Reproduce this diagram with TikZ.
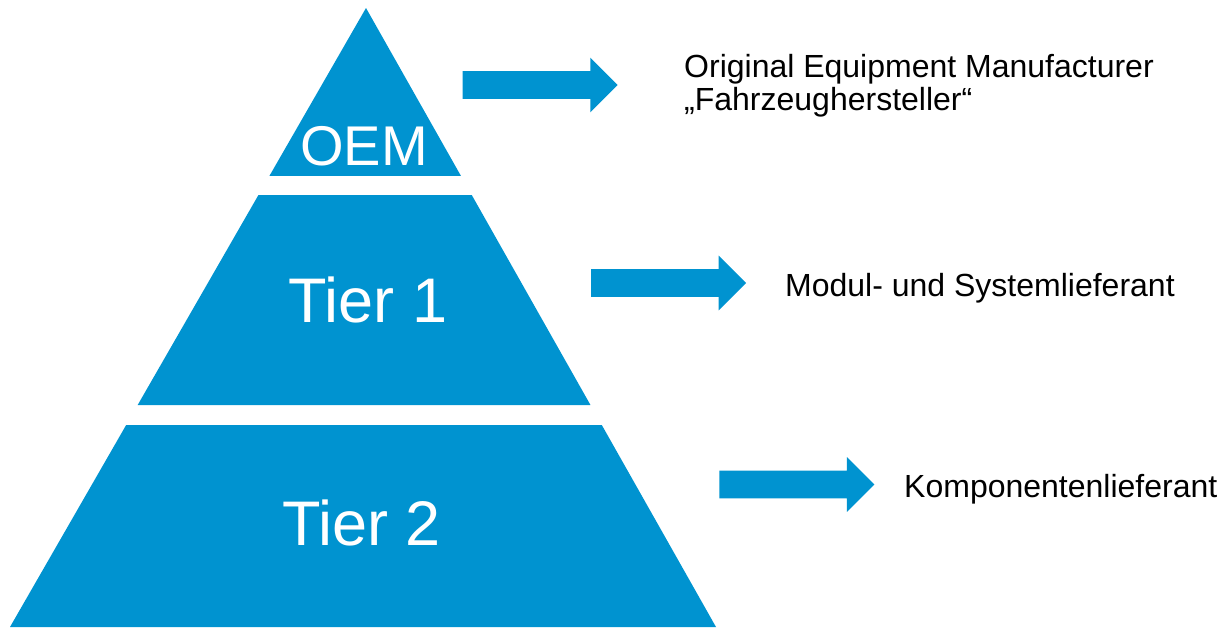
\documentclass[tikz,border=0pt]{standalone}
\usepackage{fontspec}
\setmainfont{Liberation Sans}
\usetikzlibrary{positioning,shapes,calc}
\definecolor{tierblue}{RGB}{0,147,208}
\tikzset{%
	tier/.style={fill=tierblue, draw=none},
	tierlabel/.style={anchor=base, inner sep=0pt, text=white, font=\fontsize{63}{63}\selectfont},
	blockarrow/.style={%
		single arrow,
		single arrow head extend=13.5pt,
		inner xsep=0pt,
		inner ysep=13.75pt,
		minimum width=0pt,
		minimum height=155pt,
		outer sep=0pt,
		anchor=west,
		fill=tierblue,
		draw=none
	},
	desc/.style={anchor=base west, inner sep=0pt, font=\fontsize{32}{32.7}\selectfont}
}
\begin{document}
\begin{tikzpicture}[x=1pt, y=-1pt]
	\useasboundingbox (0,0) rectangle (1227,630);
	\coordinate (apex) at (366,8);
	\coordinate (bl) at (10,627);
	\coordinate (br) at (716,627);
	\fill[tier] (apex) -- ($(apex)!0.2714!(br)$) -- ($(apex)!0.2714!(bl)$) -- cycle;
	\fill[tier] ($(apex)!0.3021!(bl)$) -- ($(apex)!0.3021!(br)$) -- ($(apex)!0.6414!(br)$) -- ($(apex)!0.6414!(bl)$) -- cycle;
	\fill[tier] ($(apex)!0.6737!(bl)$) -- ($(apex)!0.6737!(br)$) -- (br) -- (bl) -- cycle;
	\node[tierlabel, font=\fontsize{56}{56}\selectfont] (oem) at (364,165.7) {OEM};
	\node[tierlabel] (tier1) at (368,322.3) {Tier 1};
	\node[tierlabel] (tier2) at (361.5,545) {Tier 2};
	\node[blockarrow] (arrowoem) at (462.7,85) {};
	\node[blockarrow] (arrowtier1) at (591,283) {};
	\node[blockarrow] (arrowtier2) at (719.3,484.5) {};
	\node[desc] (oemdesc) at (684,77.3) {Original Equipment Manufacturer};
	\node[desc] (oemdescb) at (684,110) {„Fahrzeughersteller“};
	\node[desc] (tier1desc) at (785,296) {Modul- und Systemlieferant};
	\node[desc] (tier2desc) at (904,497.3) {Komponentenlieferant};
\end{tikzpicture}
\end{document}
